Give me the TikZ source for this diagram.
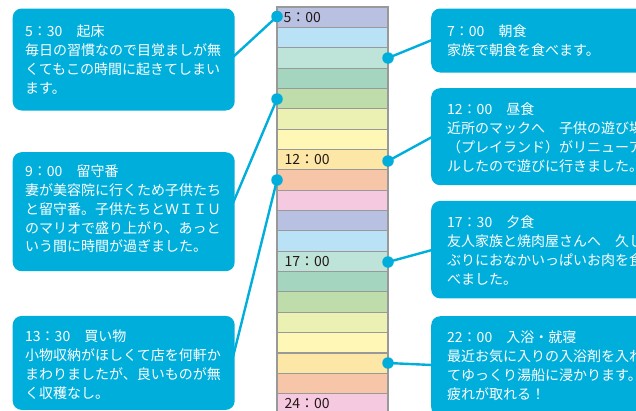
\documentclass[tikz,border=0pt]{standalone}
\usepackage{fontspec}
\setmainfont{Noto Sans CJK JP}
\definecolor{cb}{HTML}{00AEDB}
\definecolor{rowA}{HTML}{B9C1E3}
\definecolor{rowB}{HTML}{B9E2F7}
\definecolor{rowC}{HTML}{BEE3D9}
\definecolor{rowD}{HTML}{A3D5BF}
\definecolor{rowE}{HTML}{BEDDAA}
\definecolor{rowF}{HTML}{EBF1B2}
\definecolor{rowG}{HTML}{FFF7B5}
\definecolor{rowH}{HTML}{FDE7A6}
\definecolor{rowI}{HTML}{F7C5A8}
\definecolor{rowJ}{HTML}{F5C9DF}
\definecolor{gridgray}{HTML}{999999}
\definecolor{tlink}{HTML}{231815}
\begin{document}
\begin{tikzpicture}[x=1pt,y=-1pt,
  rowbox/.style={draw=gridgray, line width=1.1pt, minimum width=111pt, minimum height=20.35pt, inner sep=0pt},
  tlabel/.style={anchor=west, inner sep=0pt, text=tlink, font=\fontsize{14}{16}\selectfont},
  callout/.style={fill=cb, rounded corners=9pt, anchor=north west, inner sep=0pt},
  ctext/.style={anchor=north west, inner sep=0pt, align=left, text=white, font=\fontsize{14}{18.7}\selectfont},
  dot/.style={circle, fill=cb, inner sep=0pt, minimum size=11.5pt},
  conn/.style={draw=cb, line width=2.4pt}]
\useasboundingbox (0,0) rectangle (636,410);
\clip (0,0) rectangle (636,410);

% timeline rows
\foreach \i/\c in {0/rowA,1/rowB,2/rowC,3/rowD,4/rowE,5/rowF,6/rowG,7/rowH,8/rowI,9/rowJ,
                   10/rowA,11/rowB,12/rowC,13/rowD,14/rowE,15/rowF,16/rowG,17/rowH,18/rowI,19/rowJ}
  \node[rowbox, fill=\c] (row\i) at (332.5, {7+\i*20.35+10.175}) {};

\node[tlabel] (t5)  at ([xshift=7pt]row0.west)  {5：00};
\node[tlabel] (t12) at ([xshift=8pt]row7.west)  {12：00};
\node[tlabel] (t17) at ([xshift=8pt]row12.west) {17：00};
\node[tlabel] (t24) at ([xshift=8pt]row19.west) {24：00};

% dots
\node[dot] (d530)  at (277,16.5) {};
\node[dot] (d700)  at (388,58) {};
\node[dot] (d900)  at (277,99) {};
\node[dot] (d1200) at (388,161) {};
\node[dot] (d1330) at (277,180) {};
\node[dot] (d1730) at (388,262) {};
\node[dot] (d2200) at (388,363) {};

% connector end points on the callouts
\coordinate (e530)  at (233,57);
\coordinate (e900)  at (233,203);
\coordinate (e1330) at (233,357);
\coordinate (e700)  at (432,40);
\coordinate (e1200) at (432,137);
\coordinate (e1730) at (432,250);
\coordinate (e2200) at (432,365);

\draw[conn] (d530.center) -- (e530);
\draw[conn] (d900.center) -- (e900);
\draw[conn] (d1330.center) -- (e1330);
\draw[conn] (d700.center) -- (e700);
\draw[conn] (d1200.center) -- (e1200);
\draw[conn] (d1730.center) -- (e1730);
\draw[conn] (d2200.center) -- (e2200);

% callout boxes
\node[callout, minimum width=222pt, minimum height=102pt] (b530)  at (12.5,8.3) {};
\node[callout, minimum width=222pt, minimum height=119pt] (b900)  at (12.5,152) {};
\node[callout, minimum width=222pt, minimum height=94pt]  (b1330) at (12.5,315.7) {};
\node[callout, minimum width=230pt, minimum height=64pt]  (b700)  at (431,8.3) {};
\node[callout, minimum width=230pt, minimum height=97pt]  (b1200) at (431,88) {};
\node[callout, minimum width=230pt, minimum height=97.5pt] (b1730) at (431,200.7) {};
\node[callout, minimum width=230pt, minimum height=100pt] (b2200) at (431,316) {};

% callout texts
\node[ctext] (x530) at (25,25) {5：30　起床\\毎日の習慣なので目覚ましが無\\くてもこの時間に起きてしまい\\ます。};
\node[ctext] (x900) at (25,165) {9：00　留守番\\妻が美容院に行くため子供たち\\と留守番。子供たちとＷＩＩＵ\\のマリオで盛り上がり、あっと\\いう間に時間が過ぎました。};
\node[ctext] (x1330) at (25,330) {13：30　買い物\\小物収納がほしくて店を何軒か\\まわりましたが、良いものが無\\く収穫なし。};
\node[ctext] (x700) at (447,25) {7：00　朝食\\家族で朝食を食べます。};
\node[ctext] (x1200) at (447,103) {12：00　昼食\\近所のマックへ　子供の遊び場\\（プレイランド）がリニューア\\ルしたので遊びに行きました。};
\node[ctext] (x1730) at (447,216) {17：30　夕食\\友人家族と焼肉屋さんへ　久し\\ぶりにおなかいっぱいお肉を食\\べました。};
\node[ctext] (x2200) at (447,331) {22：00　入浴・就寝\\最近お気に入りの入浴剤を入れ\\てゆっくり湯船に浸かります。\\疲れが取れる！};
\end{tikzpicture}
\end{document}
